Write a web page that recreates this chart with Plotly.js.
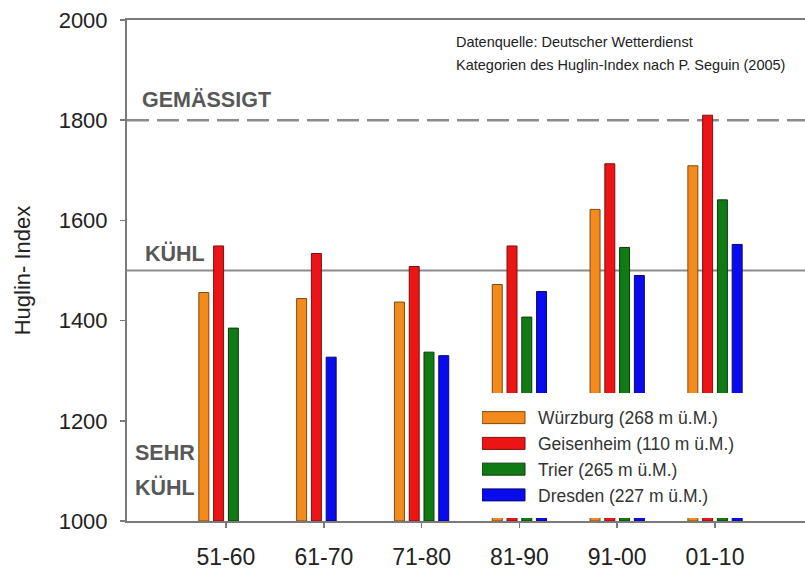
<!DOCTYPE html>
<html>
<head>
<meta charset="utf-8">
<script src="https://cdn.plot.ly/plotly-3.0.1.min.js"></script>
<style>
html,body{margin:0;padding:0;background:#fff;}
#chart{width:805px;height:572px;}
</style>
</head>
<body>
<div id="chart"></div>
<script>
// ---- data ----
const categories = ['51-60', '61-70', '71-80', '81-90', '91-00', '01-10'];
const seriesNames = ['Würzburg (268 m ü.M.)', 'Geisenheim (110 m ü.M.)', 'Trier (265 m ü.M.)', 'Dresden (227 m ü.M.)'];
const wuerzburg = [1456, 1444, 1437, 1472, 1622, 1709];
const geisenheim = [1549, 1534, 1508, 1549, 1713, 1810];
const trier = [1385, null, 1337, 1407, 1546, 1641];
const dresden = [null, 1327, 1330, 1458, 1490, 1552];
const levelValues = [1800, 1500, 1000];
const levelNames = ['GEMÄSSIGT', 'KÜHL', 'SEHR KÜHL'];
const sourceNotes = ['Datenquelle: Deutscher Wetterdienst', 'Kategorien des Huglin-Index nach P. Seguin (2005)'];
const yTicks = [1000, 1200, 1400, 1600, 1800, 2000];

// ---- style ----
const colors = ['#F48A1C', '#EC1414', '#127A14', '#0A0AEE'];
const outline = ['#7a4a10', '#7a1010', '#0a3a0a', '#0a0a6a'];
const allSeries = [wuerzburg, geisenheim, trier, dresden];
const slotPitch = 0.151, barW = 0.102, nSlots = 4;
const FONT = 'Liberation Sans, Arial, sans-serif';

// present bars in each category are placed in consecutive slots
const offsets = allSeries.map(() => []);
categories.forEach((c, i) => {
  let k = 0;
  allSeries.forEach((s, j) => {
    const slot = (s[i] === null) ? j : k;
    offsets[j][i] = -nSlots / 2 * slotPitch + slot * slotPitch + (slotPitch - barW) / 2;
    if (s[i] !== null) k++;
  });
});

const traces = allSeries.map((s, j) => ({
  type: 'bar',
  name: seriesNames[j],
  x: categories,
  y: s.map(v => v === null ? null : v - levelValues[2]),
  base: levelValues[2],
  offset: offsets[j],
  width: categories.map(() => barW),
  marker: {color: colors[j], line: {color: outline[j], width: 1}}
}));

const shapes = [
  {type: 'line', xref: 'paper', x0: 0, x1: 1, yref: 'y', y0: levelValues[0], y1: levelValues[0],
   line: {color: '#8c8c8c', width: 2.5, dash: '22px,8px'}, layer: 'below'},
  {type: 'line', xref: 'paper', x0: 0, x1: 1, yref: 'y', y0: levelValues[1], y1: levelValues[1],
   line: {color: '#8c8c8c', width: 2}, layer: 'below'},
  // white legend panel covering the bars behind it
  {type: 'rect', xref: 'paper', yref: 'paper',
   x0: (468 - 127) / 678, x1: (768 - 127) / 678, y0: 3 / 501, y1: (521 - 393) / 501,
   fillcolor: '#ffffff', line: {width: 0}, layer: 'above'}
];

const levelX = [0.019, 0.024, 0.009];
const levelShift = [20, 17, 34];
const annotations = [];
levelNames.forEach((t, i) => {
  const words = i === 2 ? t.split(' ') : [t];
  words.forEach((w, k) => annotations.push({
    text: '<b>' + w + '</b>', xref: 'paper', x: levelX[i], xanchor: 'left',
    yref: 'y', y: levelValues[i], yanchor: 'middle',
    yshift: levelShift[i] + (words.length - 1 - k) * 34,
    showarrow: false,
    font: {family: FONT, size: 21.5, color: '#585858'}
  }));
});
sourceNotes.forEach((t, i) => annotations.push({
  text: t, xref: 'paper', x: (454 - 127) / 678, xanchor: 'left',
  yref: 'paper', y: 1 - (22 + i * 23) / 501, yanchor: 'middle',
  showarrow: false,
  font: {family: FONT, size: 14.5, color: '#222'}
}));

const layout = {
  width: 805, height: 572,
  margin: {l: 127, r: 0, t: 20, b: 51},
  paper_bgcolor: '#fff', plot_bgcolor: '#fff',
  barmode: 'overlay',
  font: {family: FONT, color: '#222'},
  showlegend: true,
  legend: {
    x: (482 - 127) / 678, xanchor: 'left', y: 0.242, yanchor: 'top',
    bgcolor: 'rgba(255,255,255,0)', font: {size: 17.5, color: '#333'},
    tracegroupgap: 0, traceorder: 'normal', itemwidth: 46
  },
  xaxis: {
    type: 'category', range: [-1.012, 5.92],
    showline: true, linecolor: '#7a7a7a', linewidth: 2, mirror: true,
    ticks: 'outside', ticklen: 5, tickcolor: '#7a7a7a', tickwidth: 1.5,
    tickfont: {size: 23, color: '#222'}, ticklabelstandoff: 9,
    showgrid: false, zeroline: false, fixedrange: true
  },
  yaxis: {
    range: [1000, 2000], tickvals: yTicks,
    showline: true, linecolor: '#7a7a7a', linewidth: 2,
    ticks: 'outside', ticklen: 5, tickcolor: '#7a7a7a', tickwidth: 1.5,
    tickfont: {size: 22, color: '#222'}, ticklabelstandoff: 8,
    showgrid: false, zeroline: false, fixedrange: true,
    title: {text: 'Huglin- Index', font: {size: 22, color: '#222'}, standoff: 22}
  },
  shapes: shapes,
  annotations: annotations
};

Plotly.newPlot('chart', traces, layout, {displayModeBar: false, staticPlot: true}).then(gd => {
  // widen legend swatches to the reference's flat rectangles
  gd.querySelectorAll('.legend .legendpoints path').forEach(p => p.setAttribute('d', 'M15,6H-28V-6H15Z'));
});
</script>
</body>
</html>
